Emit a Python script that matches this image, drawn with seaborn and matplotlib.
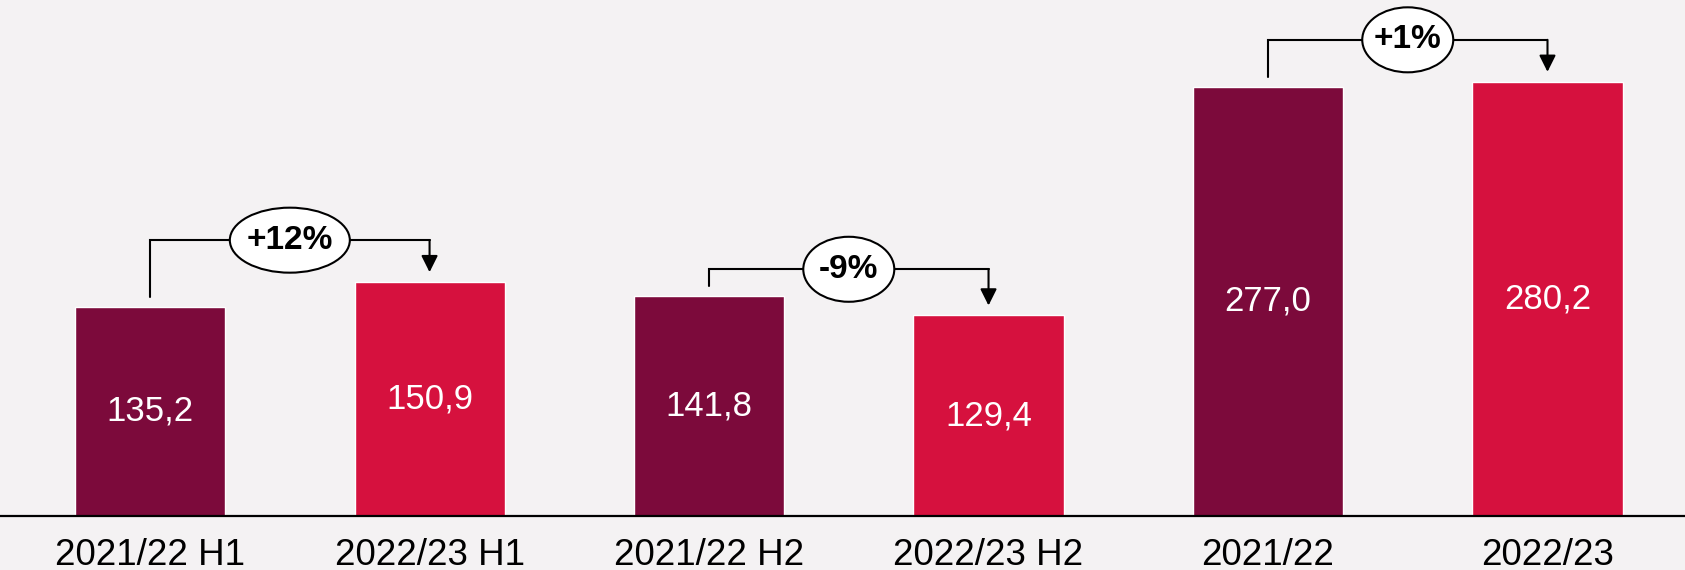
import matplotlib
matplotlib.use("Agg")
import matplotlib.pyplot as plt
import seaborn as sns
from matplotlib.patches import Ellipse

categories = ["2021/22 H1", "2022/23 H1", "2021/22 H2", "2022/23 H2", "2021/22", "2022/23"]
values = [135.2, 150.9, 141.8, 129.4, 277.0, 280.2]
changes = ["+12%", "-9%", "+1%"]  # compares bars (0,1), (2,3), (4,5)

BG = "#f4f2f3"
DARK = "#7c0a3b"
RED = "#d6113e"

sns.set_style("white")
plt.rcParams["font.family"] = ["Liberation Sans", "DejaVu Sans"]
plt.rcParams["text.color"] = "black"

fig = plt.figure(figsize=(16.85, 5.70), dpi=100, facecolor=BG)
ax = fig.add_axes([0, 54 / 570, 1, 516 / 570])
ax.set_facecolor(BG)

sns.barplot(x=categories, y=values, hue=categories, palette=[DARK, RED] * 3,
            legend=False, width=0.537, saturation=1, ax=ax)

ax.set_xlim(-0.537, 5.492)
ax.set_ylim(0, 333)
ax.set_yticks([])
ax.set_xlabel("")
ax.set_ylabel("")
for side in ["top", "left", "right"]:
    ax.spines[side].set_visible(False)
ax.spines["bottom"].set_color("black")
ax.spines["bottom"].set_linewidth(1.6)
ax.tick_params(axis="x", length=0, pad=16, labelsize=26.5, labelcolor="black")

# value labels inside bars
for i, v in enumerate(values):
    ax.text(i, v / 2, f"{v:.1f}".replace(".", ","), color="white",
            ha="center", va="center", fontsize=25)

# change brackets
px_y = 333 / 516          # data units per pixel (vertical)
px_x = 1685 / (5.492 + 0.537)  # pixels per category
gap = 10 * px_y
rise = [42, 27, 42]
ell_w = [120, 91, 91]
ell_h = 65

for k, label in enumerate(changes):
    i, j = 2 * k, 2 * k + 1
    yh = max(values[i], values[j]) + rise[k] * px_y
    ax.plot([i, i, j], [values[i] + gap, yh, yh], color="black", lw=1.5,
            solid_joinstyle="miter", zorder=2)
    ax.annotate("", xy=(j, values[j] + gap), xytext=(j, yh),
                arrowprops=dict(arrowstyle="-|>,head_width=0.5,head_length=1.0",
                                color="black", lw=1.5, shrinkA=0, shrinkB=0))
    ax.add_patch(Ellipse(((i + j) / 2, yh), ell_w[k] / px_x, ell_h * px_y,
                         fc="white", ec="black", lw=1.5, zorder=3))
    ax.text((i + j) / 2, yh, label, color="black", ha="center", va="center",
            fontsize=24, fontweight="bold", zorder=4)

fig.savefig("out.png", dpi=100, facecolor=BG)
